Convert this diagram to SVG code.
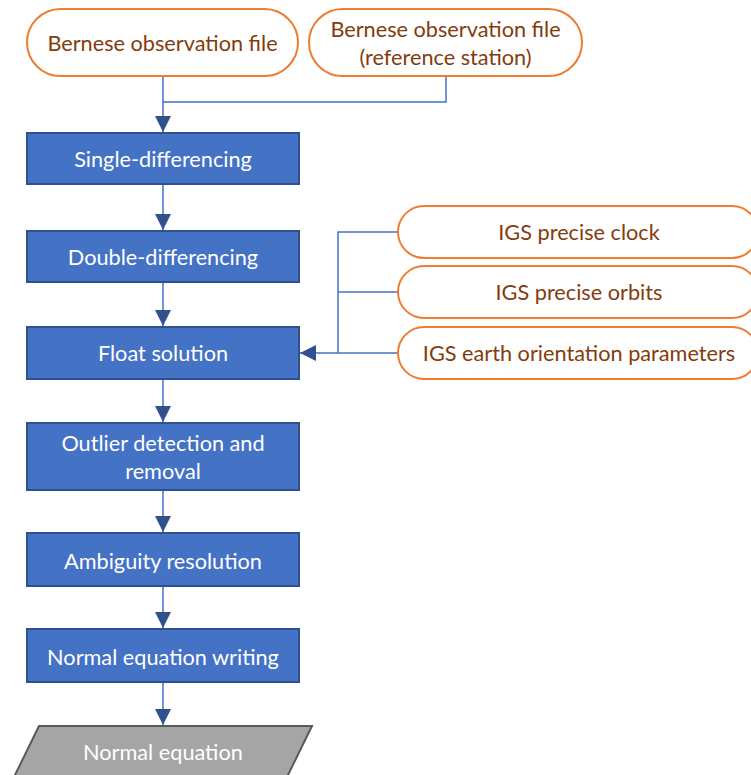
<svg xmlns="http://www.w3.org/2000/svg" width="751" height="775" viewBox="0 0 751 775">
<defs>
<style>
.pill{fill:#fff;stroke:#ED7D31;stroke-width:2}
.proc{fill:#4472C4;stroke:#2F528F;stroke-width:2}
.io{fill:#A5A5A5;stroke:#595959;stroke-width:2}
.pt{font-family:Lato,"Open Sans",sans-serif;font-size:21.7px;fill:#843C0C;text-anchor:middle;dominant-baseline:central}
.wt{font-family:Lato,"Open Sans",sans-serif;font-size:21.7px;fill:#fff;text-anchor:middle;dominant-baseline:central}
.ln{fill:none;stroke:#4472C4;stroke-width:1.5}
</style>
<marker id="ah" markerWidth="16" markerHeight="16" viewBox="0 0 16 16" refX="16" refY="8" orient="auto" markerUnits="userSpaceOnUse">
<path d="M0,0 L16,8 L0,16 Z" fill="#2F528F"/>
</marker>
</defs>
<rect width="751" height="775" fill="#fff"/>
<g id="connectors">
<path class="ln" d="M163,76 V102"/>
<path class="ln" d="M446,77 V102 H163 V132" marker-end="url(#ah)"/>
<path class="ln" d="M163,184 V230" marker-end="url(#ah)"/>
<path class="ln" d="M163,282 V326" marker-end="url(#ah)"/>
<path class="ln" d="M163,379 V422" marker-end="url(#ah)"/>
<path class="ln" d="M163,490 V532" marker-end="url(#ah)"/>
<path class="ln" d="M163,586 V628" marker-end="url(#ah)"/>
<path class="ln" d="M163,682 V725" marker-end="url(#ah)"/>
<path class="ln" d="M398,232 H338 V353"/>
<path class="ln" d="M398,292 H338"/>
<path class="ln" d="M398,353 H300" marker-end="url(#ah)"/>
</g>
<g id="bernese1">
<rect class="pill" x="27" y="9" width="271" height="67" rx="33.5"/>
<text class="pt" x="162.5" y="43">Bernese observation file</text>
</g>
<g id="bernese2">
<rect class="pill" x="309" y="9" width="273" height="67" rx="33.5"/>
<text class="pt" x="445.5" y="29">Bernese observation file</text>
<text class="pt" x="445.5" y="57">(reference station)</text>
</g>
<g id="single">
<rect class="proc" x="27" y="133" width="272" height="51"/>
<text class="wt" x="163" y="159">Single-differencing</text>
</g>
<g id="double">
<rect class="proc" x="27" y="231" width="272" height="51"/>
<text class="wt" x="163" y="257">Double-differencing</text>
</g>
<g id="float">
<rect class="proc" x="27" y="327" width="272" height="52"/>
<text class="wt" x="163" y="353">Float solution</text>
</g>
<g id="outlier">
<rect class="proc" x="27" y="423" width="272" height="67"/>
<text class="wt" x="163" y="443">Outlier detection and</text>
<text class="wt" x="163" y="471">removal</text>
</g>
<g id="ambiguity">
<rect class="proc" x="27" y="533" width="272" height="53"/>
<text class="wt" x="163" y="561">Ambiguity resolution</text>
</g>
<g id="writing">
<rect class="proc" x="27" y="629" width="272" height="53"/>
<text class="wt" x="163" y="657">Normal equation writing</text>
</g>
<g id="normaleq">
<path class="io" d="M39,726 H312 L287,777 H14 Z"/>
<text class="wt" x="163" y="752">Normal equation</text>
</g>
<g id="clock">
<rect class="pill" x="398" y="206" width="360" height="52" rx="26"/>
<text class="pt" x="579" y="232">IGS precise clock</text>
</g>
<g id="orbits">
<rect class="pill" x="398" y="266" width="360" height="52" rx="26"/>
<text class="pt" x="579" y="292">IGS precise orbits</text>
</g>
<g id="eop">
<rect class="pill" x="398" y="327" width="360" height="52" rx="26"/>
<text class="pt" x="579" y="353">IGS earth orientation parameters</text>
</g>
</svg>
